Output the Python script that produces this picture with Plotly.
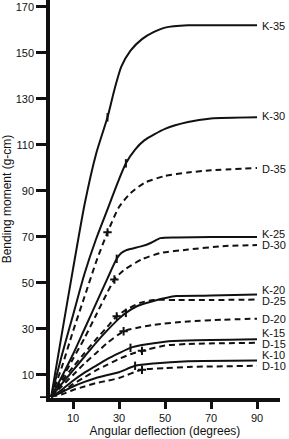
import plotly.graph_objects as go

# ---- data (angular deflection in degrees, bending moment in g-cm) ----
k35_x = [0.5, 5, 10, 15, 20, 25, 28, 31, 35, 40, 45, 50, 60, 70, 90]
k35_y = [0.5, 27, 56, 84, 106, 122, 134, 144, 151, 156, 159, 161, 162, 162, 162]

k30_x = [0.5, 5, 10, 15, 20, 25, 30, 33, 37, 41, 50, 60, 70, 90]
k30_y = [0.5, 18, 36, 54, 69, 82, 95, 102, 108, 112, 117, 120, 121.5, 122]

d35_x = [0.5, 5, 10, 15, 20, 25, 30, 35, 41, 50, 60, 70, 90]
d35_y = [0.5, 13, 29, 44, 59, 72, 83, 89, 93.5, 96.5, 98, 99, 100]

k25_x = [0.5, 5, 10, 15, 20, 25, 29, 31, 33, 36, 40, 44, 48, 55, 70, 90]
k25_y = [0.5, 9, 19, 30, 41, 52, 60.5, 63, 64.2, 65, 66, 67.5, 69.5, 69.8, 70, 70]

d30_x = [0.5, 5, 10, 15, 20, 25, 28, 32, 40, 48, 60, 75, 90]
d30_y = [0.5, 8, 17, 26, 36, 46, 51.5, 55.5, 60.3, 63, 64.5, 66, 66.5]

k20_x = [0.5, 5, 10, 15, 20, 25, 30, 33, 38, 45, 55, 70, 90]
k20_y = [0.5, 6, 12, 18, 24, 29.5, 34.5, 37, 40, 42.2, 44.3, 44.5, 45]

d25_x = [0.5, 5, 10, 15, 20, 25, 29, 33, 39, 45, 55, 70, 90]
d25_y = [0.5, 7, 13.5, 19.5, 25.5, 31, 35.5, 38.3, 41.3, 42.6, 42.6, 42.6, 42.8]

d20_x = [0.5, 5, 10, 15, 20, 25, 32, 38, 45, 60, 75, 90]
d20_y = [0.5, 5, 10, 15, 19.5, 24, 29, 30.5, 31.8, 33.3, 34, 34.5]

k15_x = [0.5, 5, 10, 15, 20, 25, 30, 35, 40, 50, 60, 90]
k15_y = [0.5, 3.5, 7.5, 11, 14, 17, 19.5, 21.8, 23, 24.5, 25, 25.5]

d15_x = [0.5, 5, 10, 15, 20, 25, 30, 35, 40, 50, 60, 90]
d15_y = [0.5, 2.5, 6, 9, 12, 14.5, 17, 19, 20.5, 22.8, 23.5, 24]

k10_x = [0.5, 5, 10, 15, 20, 25, 30, 37, 45, 60, 90]
k10_y = [0.5, 2.5, 5, 7, 8.7, 10, 11.2, 14, 15, 16, 16.3]

d10_x = [0.5, 5, 10, 15, 20, 25, 30, 40, 50, 60, 90]
d10_y = [0.5, 1.5, 3.5, 5, 6.5, 7.5, 8.7, 12.3, 13, 13.5, 14]

# marker (data point) positions on each curve
k35_mx, k35_my = [25], [122]
k30_mx, k30_my = [33], [102]
d35_mx, d35_my = [25], [72]
k25_mx, k25_my = [29], [60.5]
d30_mx, d30_my = [28], [51.5]
k20_mx, k20_my = [33], [37]
d25_mx, d25_my = [29], [35.5]
d20_mx, d20_my = [32], [29]
k15_mx, k15_my = [35], [21.8]
d15_mx, d15_my = [40], [20.5]
k10_mx, k10_my = [37], [14]
d10_mx, d10_my = [40], [12.3]

names = ["K-35", "K-30", "D-35", "K-25", "D-30", "K-20", "D-25",
         "D-20", "K-15", "D-15", "K-10", "D-10"]
label_y = [161.5, 122.5, 99.5, 71.2, 66.4, 46.8, 42.0, 34.4, 28.4, 23.4, 18.6, 13.8]

x_ticks = [10, 30, 50, 70, 90]
y_ticks = [10, 30, 50, 70, 90, 110, 130, 150, 170]

curves = [
    (k35_x, k35_y, k35_mx, k35_my),
    (k30_x, k30_y, k30_mx, k30_my),
    (d35_x, d35_y, d35_mx, d35_my),
    (k25_x, k25_y, k25_mx, k25_my),
    (d30_x, d30_y, d30_mx, d30_my),
    (k20_x, k20_y, k20_mx, k20_my),
    (d25_x, d25_y, d25_mx, d25_my),
    (d20_x, d20_y, d20_mx, d20_my),
    (k15_x, k15_y, k15_mx, k15_my),
    (d15_x, d15_y, d15_mx, d15_my),
    (k10_x, k10_y, k10_mx, k10_my),
    (d10_x, d10_y, d10_mx, d10_my),
]

INK = "#111111"
FONT = "Liberation Sans, Arial, sans-serif"

fig = go.Figure()
for name, (xs, ys, mx, my) in zip(names, curves):
    dashed = name.startswith("D")
    fig.add_trace(go.Scatter(
        x=xs, y=ys, mode="lines", name=name,
        line=dict(color=INK, width=2, shape="spline", smoothing=0.6,
                  dash="6px,4px" if dashed else "solid"),
        showlegend=False, hoverinfo="skip"))
    fig.add_trace(go.Scatter(
        x=mx, y=my, mode="markers", showlegend=False, hoverinfo="skip",
        marker=dict(symbol="cross-thin" if dashed else "line-ns",
                    size=6, color=INK,
                    line=dict(color=INK, width=2))))

for name, ly in zip(names, label_y):
    fig.add_annotation(x=90, y=ly, text=name, showarrow=False,
                       xanchor="left", yanchor="middle", xshift=3,
                       font=dict(family=FONT, size=11, color=INK))

# x axis line extension to the left of the y axis
fig.add_shape(type="line", xref="paper", yref="y", x0=-10 / 230, x1=0,
              y0=0, y1=0, line=dict(color=INK, width=3.5))

fig.update_layout(
    width=289, height=439,
    margin=dict(l=50, r=9, t=0, b=41),
    paper_bgcolor="white", plot_bgcolor="white",
    font=dict(family=FONT, size=12, color=INK),
    xaxis=dict(range=[0, 100], tickvals=x_ticks, ticks="outside",
               ticklen=7, tickwidth=3, tickcolor=INK,
               showline=True, linewidth=3.5, linecolor=INK,
               showgrid=False, zeroline=False,
               tickfont=dict(size=11),
               title=dict(text="Angular deflection (degrees)",
                          font=dict(size=12), standoff=5)),
    yaxis=dict(range=[0, 173], tickvals=y_ticks, ticks="outside",
               ticklen=10, tickwidth=3, tickcolor=INK,
               showline=True, linewidth=3.5, linecolor=INK,
               showgrid=False, zeroline=False,
               tickfont=dict(size=11),
               title=dict(text="Bending moment (g-cm)",
                          font=dict(size=12), standoff=4)),
)

fig.write_html("out.html")
